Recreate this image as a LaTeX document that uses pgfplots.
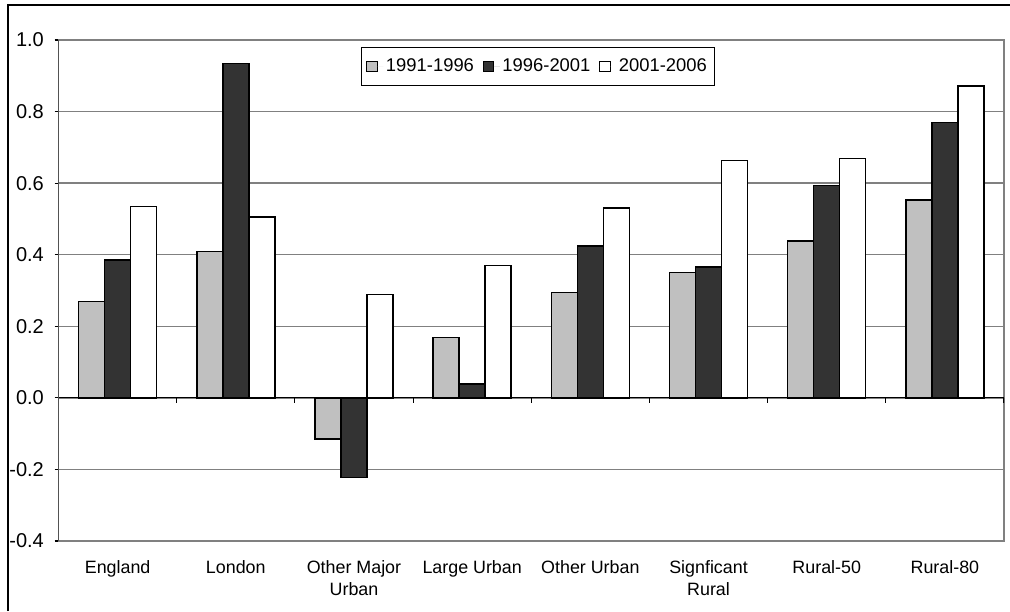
\documentclass[border=0pt]{standalone}
\usepackage{fontspec}
\setmainfont{Liberation Sans}
\usepackage{pgfplots}
\pgfplotsset{compat=1.18}
\definecolor{barlight}{HTML}{C0C0C0}
\definecolor{bardark}{HTML}{333333}
\definecolor{gridgray}{HTML}{808080}
\pgfplotsset{sqlegend/.style={legend image code/.code={\draw[##1, line width=0.7pt] (0pt,-4pt) rectangle (8pt,4pt); \path[draw=none] (0pt,0pt) -- (12.5pt,0pt);}}}

\begin{document}
\begin{tikzpicture}
\useasboundingbox (0,0) rectangle (757.5pt,458.25pt);
\draw[line width=1.1pt] (6pt,0) -- (6pt,454.5pt) -- (757.5pt,454.5pt);
\begin{axis}[
  at={(43.9pt,52.5pt)}, anchor=south west,
  scale only axis, width=709.1pt, height=375.75pt,
  ybar=0pt, bar width=19.5pt,
  xmin=-0.5, xmax=7.5, ymin=-0.4, ymax=1.0,
  xtick={0,1,2,3,4,5,6,7},
  xticklabels={England, London, Other Major\\Urban, Large Urban, Other Urban, Signficant\\Rural, Rural-50, Rural-80},
  xtick style={draw=none},
  xticklabel style={align=center, font=\fontsize{13.4}{16.5}\selectfont, anchor=north, yshift=-8pt},
  ytick={-0.4,-0.2,0,0.2,0.4,0.6,0.8,1.0}, ytick pos=left,
  /pgf/number format/assume math mode=true,
  yticklabel style={/pgf/number format/fixed, /pgf/number format/precision=1, /pgf/number format/fixed zerofill, font=\fontsize{15}{17}\selectfont, xshift=-4.5pt},
  ymajorgrids, grid style={gridgray, line width=1pt},
  axis line style={gridgray, line width=1pt},
  tick align=outside, ytick style={black, line width=0.8pt}, major tick length=3pt,
  every axis plot/.append style={draw=black, line width=1.1pt},
  legend style={at={(0.507,0.947)}, anchor=center, legend columns=3, draw=black, line width=0.8pt,
    font=\fontsize{13.8}{16}\selectfont, inner xsep=3.5pt, inner ysep=6.5pt,
    /tikz/every odd column/.append style={column sep=0pt},
    /tikz/every even column/.append style={column sep=4.5pt}},
]
\addplot[fill=barlight, sqlegend]
  coordinates {(0,0.269) (1,0.409) (2,-0.115) (3,0.168) (4,0.294) (5,0.351) (6,0.438) (7,0.553)};
\addplot[fill=bardark, sqlegend]
  coordinates {(0,0.385) (1,0.935) (2,-0.222) (3,0.039) (4,0.425) (5,0.366) (6,0.593) (7,0.770)};
\addplot[fill=white, sqlegend]
  coordinates {(0,0.534) (1,0.506) (2,0.289) (3,0.370) (4,0.530) (5,0.664) (6,0.669) (7,0.871)};
\legend{1991-1996, 1996-2001, 2001-2006}
\draw[black, line width=0.8pt] (axis cs:-0.5,0) -- (axis cs:7.5,0);
\draw[black, line width=0.9pt] (rel axis cs:0,0) -- (rel axis cs:0,1);
\draw[black, line width=0.8pt] (axis cs:0.5,0) -- ([yshift=-3.5pt]axis cs:0.5,0);
\draw[black, line width=0.8pt] (axis cs:1.5,0) -- ([yshift=-3.5pt]axis cs:1.5,0);
\draw[black, line width=0.8pt] (axis cs:2.5,0) -- ([yshift=-3.5pt]axis cs:2.5,0);
\draw[black, line width=0.8pt] (axis cs:3.5,0) -- ([yshift=-3.5pt]axis cs:3.5,0);
\draw[black, line width=0.8pt] (axis cs:4.5,0) -- ([yshift=-3.5pt]axis cs:4.5,0);
\draw[black, line width=0.8pt] (axis cs:5.5,0) -- ([yshift=-3.5pt]axis cs:5.5,0);
\draw[black, line width=0.8pt] (axis cs:6.5,0) -- ([yshift=-3.5pt]axis cs:6.5,0);
\draw[black, line width=0.8pt] (axis cs:7.5,0) -- ([yshift=-3.5pt]axis cs:7.5,0);
\end{axis}
\end{tikzpicture}
\end{document}
